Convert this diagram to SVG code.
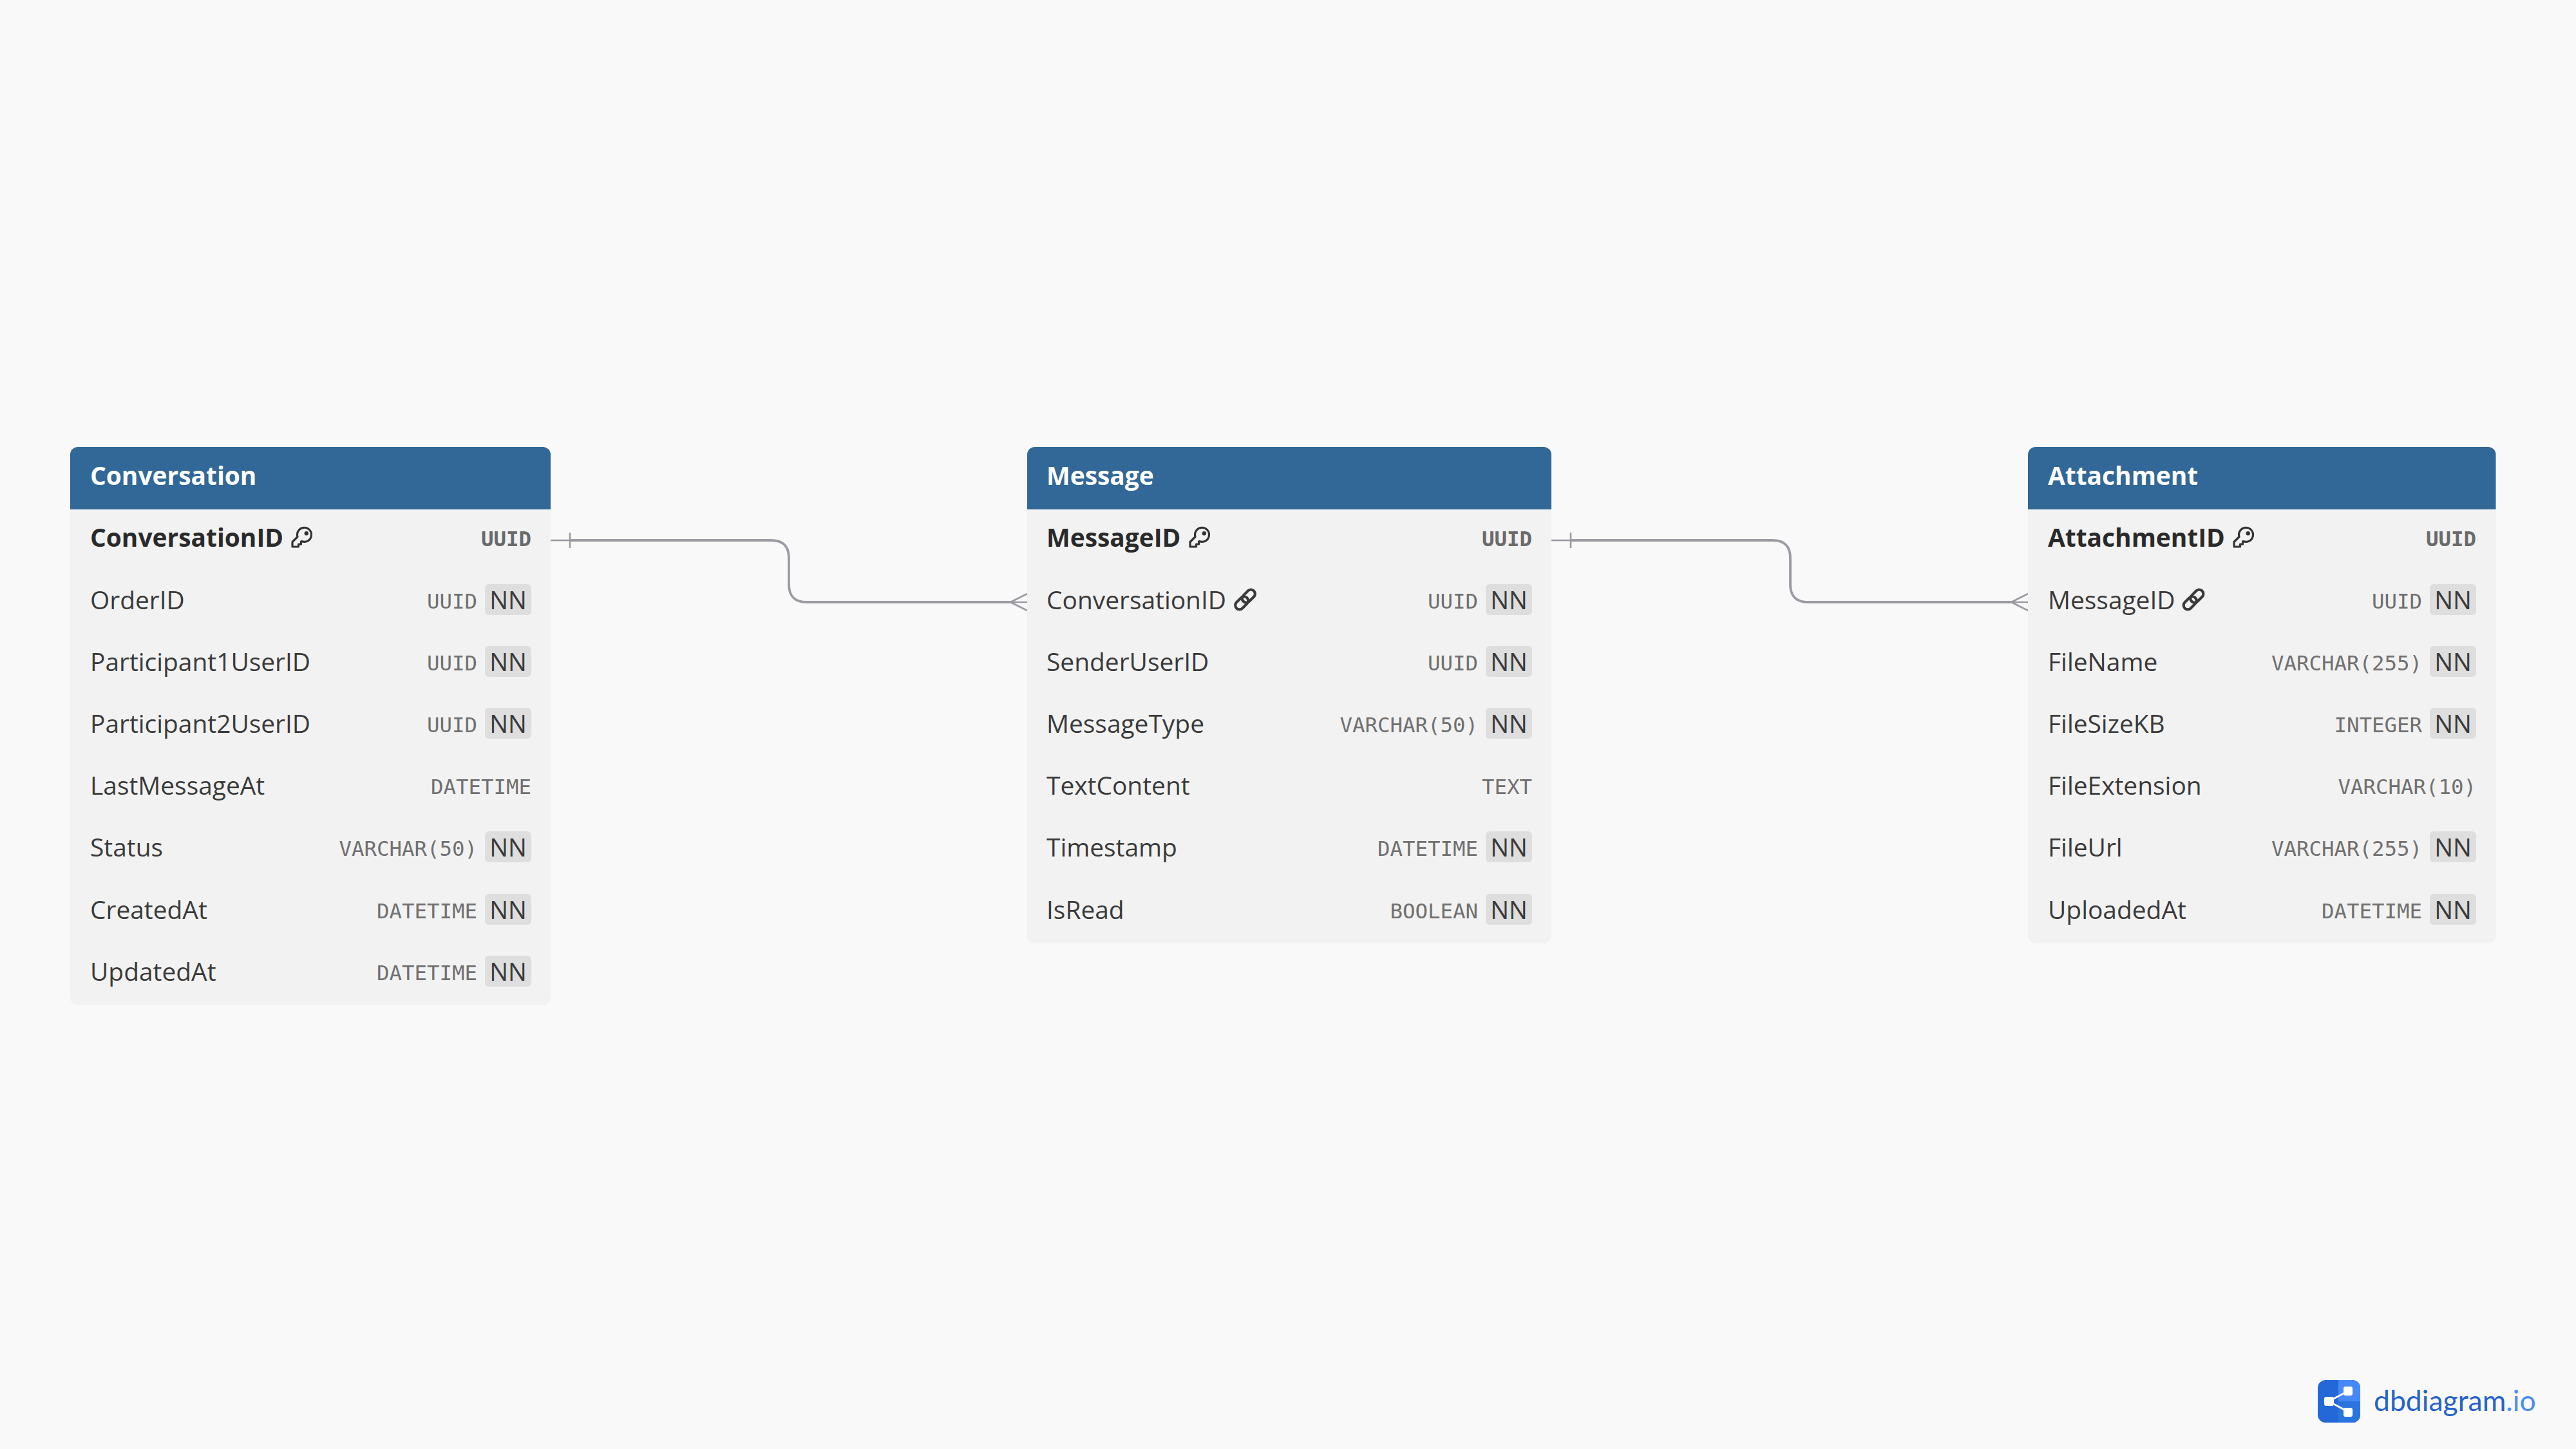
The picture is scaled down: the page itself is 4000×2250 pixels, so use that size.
<svg xmlns="http://www.w3.org/2000/svg" width="4000" height="2250" viewBox="0 0 4000 2250">
<style>
.head{fill:#316897}.body{fill:#f2f2f2}
.title{font:700 38.9px "Open Sans",sans-serif;fill:#fff}
.n{font:400 38.9px "Open Sans",sans-serif;fill:#3a3a3a}
.pk{font:700 38.9px "Open Sans",sans-serif;fill:#2a2a2a}
.t{font:400 32.4px "DejaVu Sans Mono",monospace;fill:#707070;text-anchor:end}
.tb{font-weight:700;fill:#6a6a6a}
.nn{font:400 38.3px "Open Sans",sans-serif;fill:#3a3a3a;text-anchor:middle}
.title,.n,.pk,.nn{transform:translateY(1px)}
.b{fill:#dedede}
.c{fill:none;stroke:#9b9ba3;stroke-width:3.8}
.c2{fill:none;stroke:#9b9ba3;stroke-width:2.6}
.ic{fill:none;stroke:#333;stroke-width:3.2;stroke-linejoin:round}
.il{fill:none;stroke:#3a3a3a;stroke-width:4.2}
</style>
<defs>
<g id="key"><path class="ic" d="M9.500 14.500L1.500 22.500V30H11V26H15V22L16 21.500A11 11 0 1 0 9.500 14.500Z"/><circle cx="23.300" cy="9.300" r="3.200" fill="#333"/></g>
<g id="link"><rect class="il" x="-4" y="-6.500" width="23" height="13" rx="6.500" transform="rotate(-45)"/><rect class="il" x="-19" y="-6.500" width="23" height="13" rx="6.500" transform="rotate(-45)"/></g>
</defs>
<rect width="4000" height="2250" fill="#f9f9f9"/>
<g id="connectors">
<path class="c" d="M885 839H1197C1216 839 1225 848 1225 867V907C1225 926 1234 935 1253 935H1569"/>
<path class="c2" d="M855 839H885M885 827V851M1569 935L1595 922M1569 935L1595 948M1569 935H1595"/>
<path class="c" d="M2439 839H2752C2771 839 2780 848 2780 867V907C2780 926 2789 935 2808 935H3123"/>
<path class="c2" d="M2409 839H2439M2439 827V851M3123 935L3149 922M3123 935L3149 948M3123 935H3149"/>
</g>
<g id="table-Conversation">
<path class="body" d="M109 791H855V1549a12 12 0 0 1-12 12H121a12 12 0 0 1-12-12Z"/>
<path class="head" d="M121 694H843a12 12 0 0 1 12 12V791H109V706a12 12 0 0 1 12-12Z"/>
<text class="title" x="140" y="752">Conversation</text>
<text class="pk" x="140" y="848">ConversationID</text><use href="#key" x="452.500" y="819"/><text class="t tb" x="825" y="848">UUID</text>
<text class="n" x="140" y="945">OrderID</text><text class="t" x="741" y="945">UUID</text><rect class="b" x="753" y="907" width="72" height="48" rx="6"/><text class="nn" x="789" y="945">NN</text>
<text class="n" x="140" y="1041">Participant1UserID</text><text class="t" x="741" y="1041">UUID</text><rect class="b" x="753" y="1003" width="72" height="48" rx="6"/><text class="nn" x="789" y="1041">NN</text>
<text class="n" x="140" y="1137">Participant2UserID</text><text class="t" x="741" y="1137">UUID</text><rect class="b" x="753" y="1099" width="72" height="48" rx="6"/><text class="nn" x="789" y="1137">NN</text>
<text class="n" x="140" y="1233">LastMessageAt</text><text class="t" x="825" y="1233">DATETIME</text>
<text class="n" x="140" y="1329">Status</text><text class="t" x="741" y="1329">VARCHAR(50)</text><rect class="b" x="753" y="1291" width="72" height="48" rx="6"/><text class="nn" x="789" y="1329">NN</text>
<text class="n" x="140" y="1426">CreatedAt</text><text class="t" x="741" y="1426">DATETIME</text><rect class="b" x="753" y="1388" width="72" height="48" rx="6"/><text class="nn" x="789" y="1426">NN</text>
<text class="n" x="140" y="1522">UpdatedAt</text><text class="t" x="741" y="1522">DATETIME</text><rect class="b" x="753" y="1484" width="72" height="48" rx="6"/><text class="nn" x="789" y="1522">NN</text>
</g>
<g id="table-Message">
<path class="body" d="M1595 791H2409V1453a12 12 0 0 1-12 12H1607a12 12 0 0 1-12-12Z"/>
<path class="head" d="M1607 694H2397a12 12 0 0 1 12 12V791H1595V706a12 12 0 0 1 12-12Z"/>
<text class="title" x="1625" y="752">Message</text>
<text class="pk" x="1625" y="848">MessageID</text><use href="#key" x="1846.500" y="819"/><text class="t tb" x="2379" y="848">UUID</text>
<text class="n" x="1625" y="945">ConversationID</text><use href="#link" x="1933.500" y="931"/><text class="t" x="2295" y="945">UUID</text><rect class="b" x="2307" y="907" width="72" height="48" rx="6"/><text class="nn" x="2343" y="945">NN</text>
<text class="n" x="1625" y="1041">SenderUserID</text><text class="t" x="2295" y="1041">UUID</text><rect class="b" x="2307" y="1003" width="72" height="48" rx="6"/><text class="nn" x="2343" y="1041">NN</text>
<text class="n" x="1625" y="1137">MessageType</text><text class="t" x="2295" y="1137">VARCHAR(50)</text><rect class="b" x="2307" y="1099" width="72" height="48" rx="6"/><text class="nn" x="2343" y="1137">NN</text>
<text class="n" x="1625" y="1233">TextContent</text><text class="t" x="2379" y="1233">TEXT</text>
<text class="n" x="1625" y="1329">Timestamp</text><text class="t" x="2295" y="1329">DATETIME</text><rect class="b" x="2307" y="1291" width="72" height="48" rx="6"/><text class="nn" x="2343" y="1329">NN</text>
<text class="n" x="1625" y="1426">IsRead</text><text class="t" x="2295" y="1426">BOOLEAN</text><rect class="b" x="2307" y="1388" width="72" height="48" rx="6"/><text class="nn" x="2343" y="1426">NN</text>
</g>
<g id="table-Attachment">
<path class="body" d="M3149 791H3875.500V1453a12 12 0 0 1-12 12H3161a12 12 0 0 1-12-12Z"/>
<path class="head" d="M3161 694H3863.500a12 12 0 0 1 12 12V791H3149V706a12 12 0 0 1 12-12Z"/>
<text class="title" x="3180" y="752">Attachment</text>
<text class="pk" x="3180" y="848">AttachmentID</text><use href="#key" x="3467.500" y="819"/><text class="t tb" x="3845" y="848">UUID</text>
<text class="n" x="3180" y="945">MessageID</text><use href="#link" x="3406" y="931"/><text class="t" x="3761" y="945">UUID</text><rect class="b" x="3773" y="907" width="72" height="48" rx="6"/><text class="nn" x="3809" y="945">NN</text>
<text class="n" x="3180" y="1041">FileName</text><text class="t" x="3761" y="1041">VARCHAR(255)</text><rect class="b" x="3773" y="1003" width="72" height="48" rx="6"/><text class="nn" x="3809" y="1041">NN</text>
<text class="n" x="3180" y="1137">FileSizeKB</text><text class="t" x="3761" y="1137">INTEGER</text><rect class="b" x="3773" y="1099" width="72" height="48" rx="6"/><text class="nn" x="3809" y="1137">NN</text>
<text class="n" x="3180" y="1233">FileExtension</text><text class="t" x="3845" y="1233">VARCHAR(10)</text>
<text class="n" x="3180" y="1329">FileUrl</text><text class="t" x="3761" y="1329">VARCHAR(255)</text><rect class="b" x="3773" y="1291" width="72" height="48" rx="6"/><text class="nn" x="3809" y="1329">NN</text>
<text class="n" x="3180" y="1426">UploadedAt</text><text class="t" x="3761" y="1426">DATETIME</text><rect class="b" x="3773" y="1388" width="72" height="48" rx="6"/><text class="nn" x="3809" y="1426">NN</text>
</g>
<g id="logo">
<rect x="3599" y="2143" width="66" height="66" rx="12" fill="#2468d8"/>
<path d="M3631 2143H3653a12 12 0 0 1 12 12V2176H3631Z" fill="#4489f5"/>
<path d="M3631 2176H3665V2197a12 12 0 0 1-12 12H3631Z" fill="#2a74e0"/>
<path d="M3616 2176L3646 2160M3616 2176L3646 2192" stroke="#fff" stroke-width="3" fill="none"/>
<rect x="3609" y="2169" width="15" height="14" rx="3" fill="#fff"/>
<rect x="3639" y="2153" width="14" height="14" rx="3" fill="#fff"/>
<rect x="3639" y="2186" width="14" height="14" rx="3" fill="#fff"/>
<text x="3686" y="2191" font-family="Lato,sans-serif" font-size="44.500" fill="#2563c7">dbdiagram<tspan fill="#4a8cf2">.io</tspan></text>
</g>
</svg>
